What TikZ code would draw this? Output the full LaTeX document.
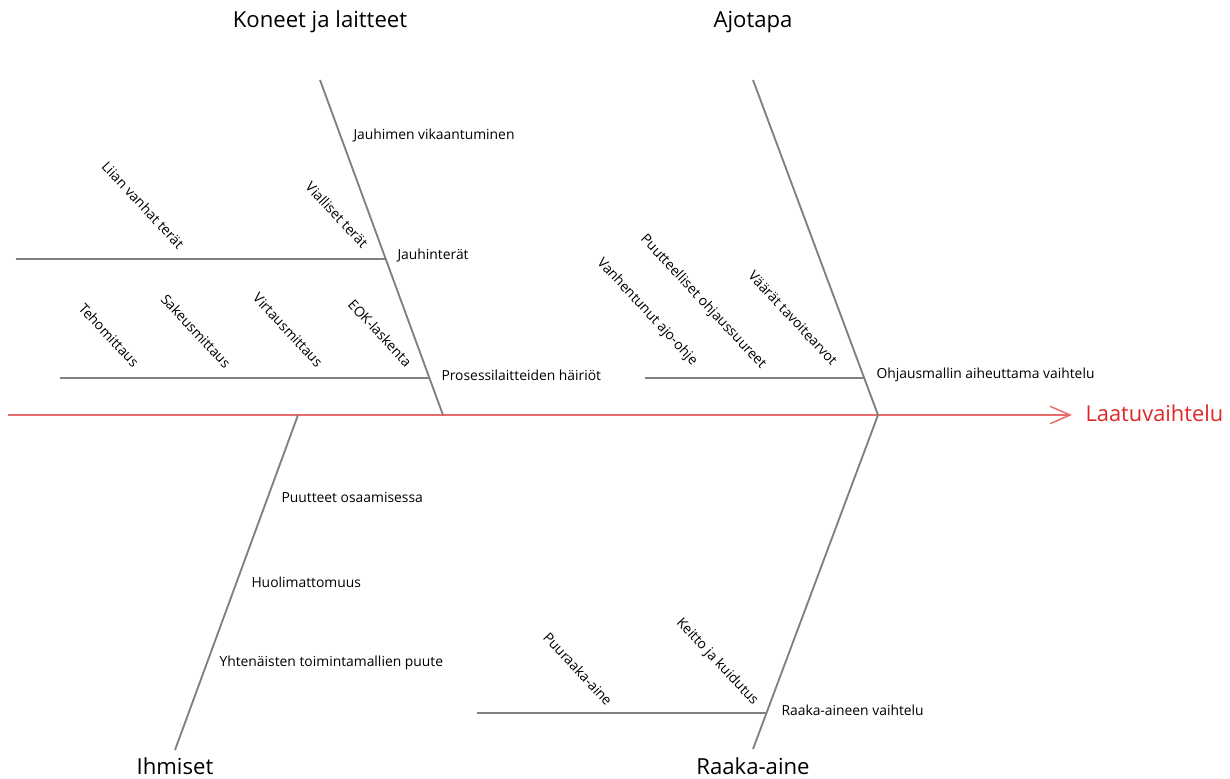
\documentclass[tikz,border=0pt]{standalone}
\usepackage{fontspec}
\setmainfont{Open Sans}
\usetikzlibrary{arrows.meta,calc}
\definecolor{bonegray}{RGB}{128,128,128}
\definecolor{spinered}{RGB}{232,108,108}
\definecolor{labelred}{RGB}{224,40,40}
\tikzset{every picture/.style={line width=0.75pt}}
\tikzset{
  bone/.style={draw=bonegray,line width=1.4pt},
  spine/.style={draw=spinered,line width=1.1pt,-{Straight Barb[length=15pt,width=13pt,line width=1.1pt]}},
  cause/.style={inner sep=0.75pt,font=\fontsize{10.4}{12}\selectfont},
  subcause/.style={inner sep=0.75pt,rotate=-47,font=\fontsize{10.4}{12}\selectfont},
  category/.style={inner sep=0.75pt,font=\fontsize{16.6}{19}\selectfont}
}

\begin{document}
\begin{tikzpicture}[x=0.75pt,y=0.75pt,yscale=-1,xscale=1]
\useasboundingbox (0,0) rectangle (1230,778);

%Spine
\coordinate (tail) at (8,415);
\coordinate (head) at (1072,415);
\draw [spine] (tail) -- (head);
% Text Node
\node (effect) [anchor=west,inner sep=0.75pt,text=labelred,font=\fontsize{16.4}{19}\selectfont] at (1084,413) {Laatuvaihtelu};

%Main bones
\coordinate (ktop) at (320,80);
\coordinate (kbot) at (443,415);
\coordinate (atop) at (753,80);
\coordinate (abot) at (878,415);
\coordinate (itop) at (298,415);
\coordinate (ibot) at (175,750);
\coordinate (rtop) at (878,415);
\coordinate (rbot) at (753,749);
\draw [bone] (ktop) -- (kbot);
\draw [bone] (atop) -- (abot);
\draw [bone] (itop) -- (ibot);
\draw [bone] (rtop) -- (rbot);

%Sub bones
\coordinate (jauh) at ($(ktop)!0.534!(kbot)$);
\coordinate (jauhend) at ($(jauh)+(-370,0)$);
\draw [bone] (jauhend) -- (jauh);
\coordinate (pros) at ($(ktop)!0.89!(kbot)$);
\coordinate (prosend) at ($(pros)+(-369,0)$);
\draw [bone] (prosend) -- (pros);
\coordinate (ohj) at ($(atop)!0.89!(abot)$);
\coordinate (ohjend) at ($(ohj)+(-219,0)$);
\draw [bone] (ohjend) -- (ohj);
\coordinate (raaka) at ($(rtop)!0.892!(rbot)$);
\coordinate (raakaend) at ($(raaka)+(-290,0)$);
\draw [bone] (raakaend) -- (raaka);

% Text Node
\node (kone) [category] at (320,22) {Koneet ja laitteet};
\node (ajo) [category] at (753,22) {Ajotapa};
\node (ihm) [category] at (175,766) {Ihmiset};
\node (raine) [category] at (753,766) {Raaka-aine};

% Text Node
\node (vika) [cause,anchor=west] at (352,136) {Jauhimen vikaantuminen};
\node (jauhl) [cause,anchor=west] at (396,256) {Jauhinterät};
\node (prosl) [cause,anchor=west] at (440,375) {Prosessilaitteiden häiriöt};
\node (ohjl) [cause,anchor=west] at (875,375) {Ohjausmallin aiheuttama vaihtelu};
\node (osaa) [cause,anchor=west] at (280,497) {Puutteet osaamisessa};
\node (huol) [cause,anchor=west] at (250,582) {Huolimattomuus};
\node (yhte) [cause,anchor=west] at (218,663) {Yhtenäisten toimintamallien puute};
\node (raakal) [cause,anchor=west] at (780,710) {Raaka-aineen vaihtelu};

% Text Node
\node (liian) [subcause] at (143,205) {Liian vanhat terät};
\node (vial) [subcause] at (337,215) {Vialliset terät};
\node (teho) [subcause] at (109,335) {Tehomittaus};
\node (sake) [subcause] at (196,331) {Sakeusmittaus};
\node (virt) [subcause] at (288,330) {Virtausmittaus};
\node (eok) [subcause] at (380,333) {EOK-laskenta};
\node (vanh) [subcause] at (647,312) {Vanhentunut ajo-ohje};
\node (puut) [subcause] at (703,302) {Puutteelliset ohjaussuureet};
\node (vaar) [subcause] at (793,318) {Väärät tavoitearvot};
\node (puur) [subcause] at (578,669) {Puuraaka-aine};
\node (keit) [subcause] at (717,662) {Keitto ja kuidutus};
\end{tikzpicture}
\end{document}
